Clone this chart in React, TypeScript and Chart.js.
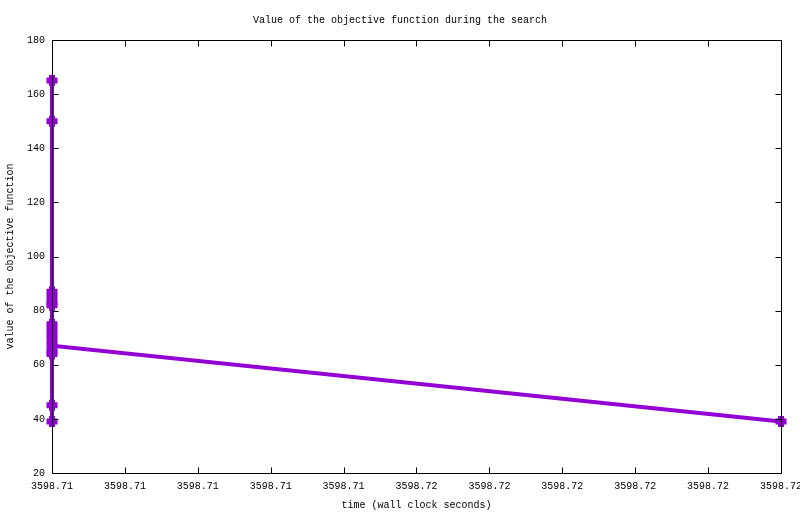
import React, { useEffect, useRef } from 'react';
import { Chart, registerables } from 'chart.js';

Chart.register(...registerables);

// ---- data ----
const times: number[] = [
  3598.7085, 3598.7085, 3598.7085, 3598.7085, 3598.7085, 3598.7085, 3598.7085, 3598.7085,
  3598.7085, 3598.7085, 3598.7085, 3598.7085, 3598.7085, 3598.7085, 3598.7085, 3598.7235,
];
const values: number[] = [165, 150, 87, 85, 83, 82, 75, 73, 71, 69, 65, 64, 45, 39, 67, 39];

const xTickValues: number[] = [
  3598.7085, 3598.71, 3598.7115, 3598.713, 3598.7145, 3598.716, 3598.7175, 3598.719, 3598.7205,
  3598.722, 3598.7235,
];
const xTickLabels: string[] = [
  '3598.71', '3598.71', '3598.71', '3598.71', '3598.71', '3598.72', '3598.72', '3598.72',
  '3598.72', '3598.72', '3598.72',
];
const yTickValues: number[] = [20, 40, 60, 80, 100, 120, 140, 160, 180];

const TITLE = 'Value of the objective function during the search';
const X_TITLE = 'time (wall clock seconds)';
const Y_TITLE = 'value of the objective function';

const PURPLE = '#9400d3';
const FONT_FAMILY = "'Liberation Mono', 'DejaVu Sans Mono', monospace";
const font = { family: FONT_FAMILY, size: 10, weight: 'normal' as const };

const borderPlugin = {
  id: 'gnuplotBorder',
  afterDatasetsDraw(chart: any) {
    const { ctx, chartArea, scales } = chart;
    const L = Math.round(chartArea.left) + 0.5;
    const R = Math.round(chartArea.right) + 0.5;
    const T = Math.round(chartArea.top) + 0.5;
    const B = Math.round(chartArea.bottom) + 0.5;
    const len = 6;
    ctx.save();
    ctx.strokeStyle = '#000';
    ctx.lineWidth = 1;
    ctx.beginPath();
    for (const v of xTickValues) {
      const px = Math.round(scales.x.getPixelForValue(v)) + 0.5;
      ctx.moveTo(px, B);
      ctx.lineTo(px, B - len);
      ctx.moveTo(px, T);
      ctx.lineTo(px, T + len);
    }
    for (const v of yTickValues) {
      const py = Math.round(scales.y.getPixelForValue(v)) + 0.5;
      ctx.moveTo(L, py);
      ctx.lineTo(L + len, py);
      ctx.moveTo(R, py);
      ctx.lineTo(R - len, py);
    }
    ctx.stroke();
    ctx.beginPath();
    ctx.rect(L, T, R - L, B - T);
    ctx.stroke();
    ctx.restore();
  },
};

export default function App() {
  const canvasRef = useRef<HTMLCanvasElement | null>(null);

  useEffect(() => {
    if (!canvasRef.current) return;
    const chart = new Chart(canvasRef.current, {
      type: 'line',
      data: {
        datasets: [
          {
            data: times.map((t, i) => ({ x: t, y: values[i] })),
            borderColor: PURPLE,
            backgroundColor: PURPLE,
            borderWidth: 4,
            pointStyle: 'cross',
            pointRadius: 5.5,
            pointBorderWidth: 6,
            pointBorderColor: PURPLE,
            pointBackgroundColor: PURPLE,
            pointHoverRadius: 5.5,
            tension: 0,
            clip: false as any,
          },
        ],
      },
      options: {
        animation: false,
        responsive: false,
        devicePixelRatio: 1,
        events: [],
        layout: { padding: 0 },
        plugins: {
          legend: { display: false },
          tooltip: { enabled: false },
          title: {
            display: true,
            text: TITLE,
            color: '#000',
            font,
            padding: { top: 14, bottom: 14 },
          },
        },
        scales: {
          x: {
            type: 'linear',
            min: xTickValues[0],
            max: xTickValues[xTickValues.length - 1],
            afterBuildTicks: (s: any) => {
              s.ticks = xTickValues.map((v) => ({ value: v }));
            },
            afterFit: (s: any) => {
              s.height = 41;
              s.paddingRight = 19;
            },
            ticks: {
              callback: (_v: any, i: number) => xTickLabels[i],
              color: '#000',
              font,
              maxRotation: 0,
              autoSkip: false,
              padding: 7,
            },
            grid: { display: false, drawTicks: false },
            border: { display: false },
            title: {
              display: true,
              text: X_TITLE,
              color: '#000',
              font,
              padding: { top: 0, bottom: 3 },
            },
          },
          y: {
            type: 'linear',
            min: 20,
            max: 180,
            afterBuildTicks: (s: any) => {
              s.ticks = yTickValues.map((v) => ({ value: v }));
            },
            afterFit: (s: any) => {
              s.width = 52;
            },
            ticks: { color: '#000', font, padding: 7 },
            grid: { display: false, drawTicks: false },
            border: { display: false },
            title: {
              display: true,
              text: Y_TITLE,
              color: '#000',
              font,
              padding: { top: 4, bottom: 0 },
            },
          },
        },
      },
      plugins: [borderPlugin],
    } as any);
    return () => chart.destroy();
  }, []);

  return (
    <div style={{ position: 'fixed', left: 0, top: 0, width: 800, height: 514, background: '#fff' }}>
      <canvas ref={canvasRef} width={800} height={514} style={{ display: 'block' }} />
    </div>
  );
}
